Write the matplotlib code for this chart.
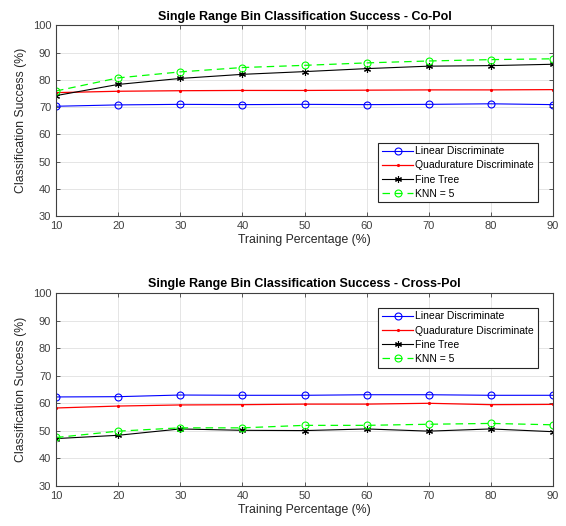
import numpy as np
import matplotlib
matplotlib.use('Agg')
import matplotlib.pyplot as plt

plt.rcParams['font.family'] = ['Liberation Sans', 'DejaVu Sans']

# Dati
training_pct = [10, 20, 30, 40, 50, 60, 70, 80, 90]

co_linear = [70.3, 70.8, 71.0, 70.9, 71.0, 70.9, 71.0, 71.2, 70.9]
co_quad = [75.3, 75.8, 76.0, 76.1, 76.1, 76.2, 76.3, 76.3, 76.4]
co_tree = [74.2, 78.3, 80.5, 82.0, 83.0, 84.1, 85.0, 85.2, 85.7]
co_knn = [75.9, 80.7, 82.9, 84.5, 85.3, 86.2, 86.9, 87.4, 87.7]

cross_linear = [62.3, 62.4, 63.0, 62.9, 62.9, 63.1, 63.1, 62.9, 62.9]
cross_quad = [58.3, 59.0, 59.4, 59.5, 59.7, 59.7, 60.0, 59.5, 59.6]
cross_tree = [47.2, 48.4, 50.7, 50.2, 50.1, 50.7, 49.9, 50.7, 49.7]
cross_knn = [47.6, 49.9, 51.1, 51.1, 52.0, 52.0, 52.4, 52.7, 52.2]

labels = ['Linear Discriminate', 'Quadurature Discriminate', 'Fine Tree', 'KNN = 5']
titles = ['Single Range Bin Classification Success - Co-Pol',
          'Single Range Bin Classification Success - Cross-Pol']

fig = plt.figure(figsize=(5.66, 5.26), dpi=100)
ax1 = fig.add_axes([0.099, 0.589, 0.878, 0.363])
ax2 = fig.add_axes([0.099, 0.076, 0.878, 0.367])

axc = '#404040'
for ax, data, title in [(ax1, [co_linear, co_quad, co_tree, co_knn], titles[0]),
                        (ax2, [cross_linear, cross_quad, cross_tree, cross_knn], titles[1])]:
    ax.plot(training_pct, data[0], color='blue', lw=0.8, marker='o', ms=5,
            mfc='none', mew=0.8, label=labels[0])
    ax.plot(training_pct, data[1], color='red', lw=0.9, marker='.', ms=2.5,
            label=labels[1])
    ax.plot(training_pct, data[2], color='black', lw=0.8, marker=(6, 2, 0), ms=5,
            mew=0.8, label=labels[2])
    ax.plot(training_pct, data[3], color='#00ff00', lw=0.9, ls=(0, (6, 4)),
            marker='o', ms=5, mfc='none', mew=0.8, label=labels[3])
    ax.set_xlim(10, 90)
    ax.set_ylim(30, 100)
    ax.set_xticks(range(10, 91, 10))
    ax.set_yticks(range(30, 101, 10))
    ax.grid(True, color='#e0e0e0', lw=0.6)
    ax.set_axisbelow(True)
    ax.tick_params(direction='in', top=True, right=True, labelsize=8,
                   colors=axc, length=3, width=0.6)
    for s in ax.spines.values():
        s.set_color(axc)
        s.set_linewidth(0.8)
    ax.set_title(title, fontsize=9, fontweight='bold', pad=4)
    ax.set_xlabel('Training Percentage (%)', fontsize=8.8, color='#262626', labelpad=2)
    ax.set_ylabel('Classification Success (%)', fontsize=8.8, color='#262626', labelpad=4)

leg_kw = dict(fontsize=7.5, fancybox=False, edgecolor='#262626', framealpha=1,
              borderpad=0.35, labelspacing=0.4, handlelength=3.0,
              handletextpad=0.2)
leg1 = ax1.legend(loc='lower right', bbox_to_anchor=(0.98, 0.045), **leg_kw)
leg2 = ax2.legend(loc='upper right', bbox_to_anchor=(0.98, 0.95), **leg_kw)
for leg in (leg1, leg2):
    leg.get_frame().set_linewidth(0.8)

plt.savefig('out.png', dpi=100)
